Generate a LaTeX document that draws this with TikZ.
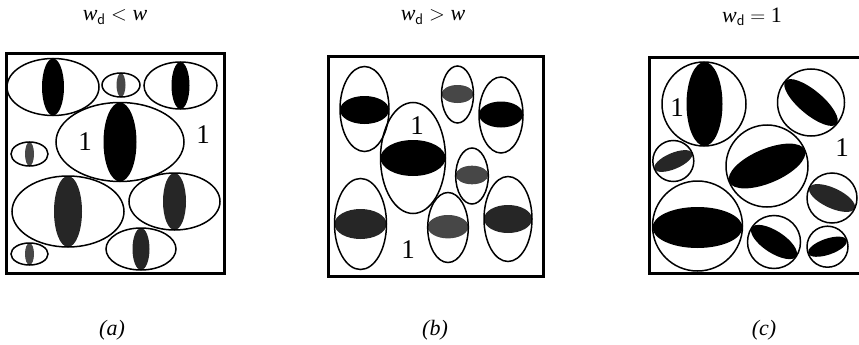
\documentclass[tikz,border=0pt]{standalone}
\usepackage{fontspec}
\setmainfont{Liberation Serif}
\begin{document}
\begin{tikzpicture}[x=1pt, y=-1pt,
    frame/.style={line width=3pt},
    shell/.style={line width=1.5pt},
    core/.style={fill=black},
    coregray/.style={fill=black!85},
    corelight/.style={fill=black!72},
    one/.style={font=\fontsize{27}{30}\selectfont, inner sep=0pt},
    title/.style={font=\fontsize{22}{26}\selectfont},
    tag/.style={font=\fontsize{22}{26}\selectfont\itshape}]
	\useasboundingbox (0,0) rectangle (859,345);
	% Titel der drei Faelle
	\node[title] (ta) at (115,17) {\textit{w}\textsubscript{\textsf{d}} $<$ \textit{w}};
	\node[title] (tb) at (433,17) {\textit{w}\textsubscript{\textsf{d}} $>$ \textit{w}};
	\node[title] (tc) at (752,17) {\textit{w}\textsubscript{\textsf{d}} $=$ 1};
	% (a) flache Ellipsen, Kern senkrecht
	\draw[frame] (6,54) rectangle (224,273);
	\fill[core] (53,87) ellipse [x radius=11, y radius=28.5];
	\draw[shell] (53,87) ellipse [x radius=46, y radius=28.5];
	\fill[corelight] (121,85) ellipse [x radius=4.5, y radius=12];
	\draw[shell] (121,85) ellipse [x radius=19, y radius=12];
	\fill[core] (180.5,85.5) ellipse [x radius=9, y radius=23.5];
	\draw[shell] (180.5,85.5) ellipse [x radius=36.5, y radius=23.5];
	\fill[core] (120,142) ellipse [x radius=16.5, y radius=39.5];
	\draw[shell] (120,142) ellipse [x radius=64, y radius=39.5];
	\fill[corelight] (29.5,154) ellipse [x radius=4.5, y radius=12];
	\draw[shell] (29.5,154) ellipse [x radius=18.5, y radius=12];
	\fill[coregray] (68,211.5) ellipse [x radius=14, y radius=35.5];
	\draw[shell] (68,211.5) ellipse [x radius=56, y radius=35.5];
	\fill[coregray] (174.5,201.5) ellipse [x radius=11.5, y radius=28.5];
	\draw[shell] (174.5,201.5) ellipse [x radius=45.5, y radius=28.5];
	\fill[corelight] (29.5,254) ellipse [x radius=4.5, y radius=11];
	\draw[shell] (29.5,254) ellipse [x radius=18.5, y radius=11];
	\fill[coregray] (141,249) ellipse [x radius=8.5, y radius=21];
	\draw[shell] (141,249) ellipse [x radius=35, y radius=21];
	\node[one] (a1) at (85,142) {1};
	\node[one] (a2) at (203,135) {1};
	% (b) hohe Ellipsen, Kern waagerecht
	\draw[frame] (328,57) rectangle (543,276);
	\fill[core] (364.5,110) ellipse [x radius=24.5, y radius=14];
	\draw[shell] (364.5,109) ellipse [x radius=24.5, y radius=42.5];
	\fill[corelight] (457.5,94) ellipse [x radius=16, y radius=9];
	\draw[shell] (457.5,94.5) ellipse [x radius=16, y radius=28.5];
	\fill[core] (501,114.5) ellipse [x radius=22, y radius=13];
	\draw[shell] (501,115) ellipse [x radius=22, y radius=38];
	\fill[core] (413,158) ellipse [x radius=32.5, y radius=18];
	\draw[shell] (413,158) ellipse [x radius=32.5, y radius=55.5];
	\fill[corelight] (472,175) ellipse [x radius=16.3, y radius=9.3];
	\draw[shell] (472,176) ellipse [x radius=16.3, y radius=28];
	\fill[coregray] (360.5,224) ellipse [x radius=26, y radius=15];
	\draw[shell] (360.5,224) ellipse [x radius=26, y radius=45.5];
	\fill[corelight] (448,226.7) ellipse [x radius=20.3, y radius=11.7];
	\draw[shell] (448,227.5) ellipse [x radius=20.3, y radius=35];
	\fill[coregray] (508,219) ellipse [x radius=24, y radius=14];
	\draw[shell] (508,219) ellipse [x radius=24, y radius=42.5];
	\node[one] (b1) at (417,126) {1};
	\node[one] (b2) at (408,250) {1};
	% (c) Kugeln, Kern gedreht
	\draw[frame] (649,58) -- (862,58) (649,273) -- (862,273) (649,56.5) -- (649,274.5);
	\fill[core] (704.5,104) ellipse [x radius=18, y radius=42];
	\draw[shell] (704,104) circle [radius=42];
	\fill[core, shift={(811,102.5)}, rotate=-40] (0,0) ellipse [x radius=33.5, y radius=12];
	\draw[shell] (811,102.5) circle [radius=33.5];
	\fill[coregray, shift={(673.3,161)}, rotate=23] (0,0) ellipse [x radius=20.5, y radius=8];
	\draw[shell] (673.3,161) circle [radius=20.5];
	\fill[core, shift={(767,166)}, rotate=23] (0,0) ellipse [x radius=41, y radius=17];
	\draw[shell] (767,166) circle [radius=41];
	\fill[core] (697.5,227.5) ellipse [x radius=45, y radius=20.5];
	\draw[shell] (697.5,226) circle [radius=45];
	\fill[coregray, shift={(832,198)}, rotate=-25] (0,0) ellipse [x radius=25, y radius=10];
	\draw[shell] (832,198) circle [radius=25];
	\fill[core, shift={(774,242)}, rotate=-33] (0,0) ellipse [x radius=26.5, y radius=11];
	\draw[shell] (774,242) circle [radius=26.5];
	\fill[core, shift={(827.5,246.7)}, rotate=19] (0,0) ellipse [x radius=20.5, y radius=8];
	\draw[shell] (827.5,246.7) circle [radius=20.5];
	\node[one] (c1) at (677,108) {1};
	\node[one] (c2) at (842,148) {1};
	% Unterschriften
	\node[tag] (la) at (112,330) {(a)};
	\node[tag] (lb) at (435,330) {(b)};
	\node[tag] (lc) at (764,330) {(c)};
\end{tikzpicture}
\end{document}
